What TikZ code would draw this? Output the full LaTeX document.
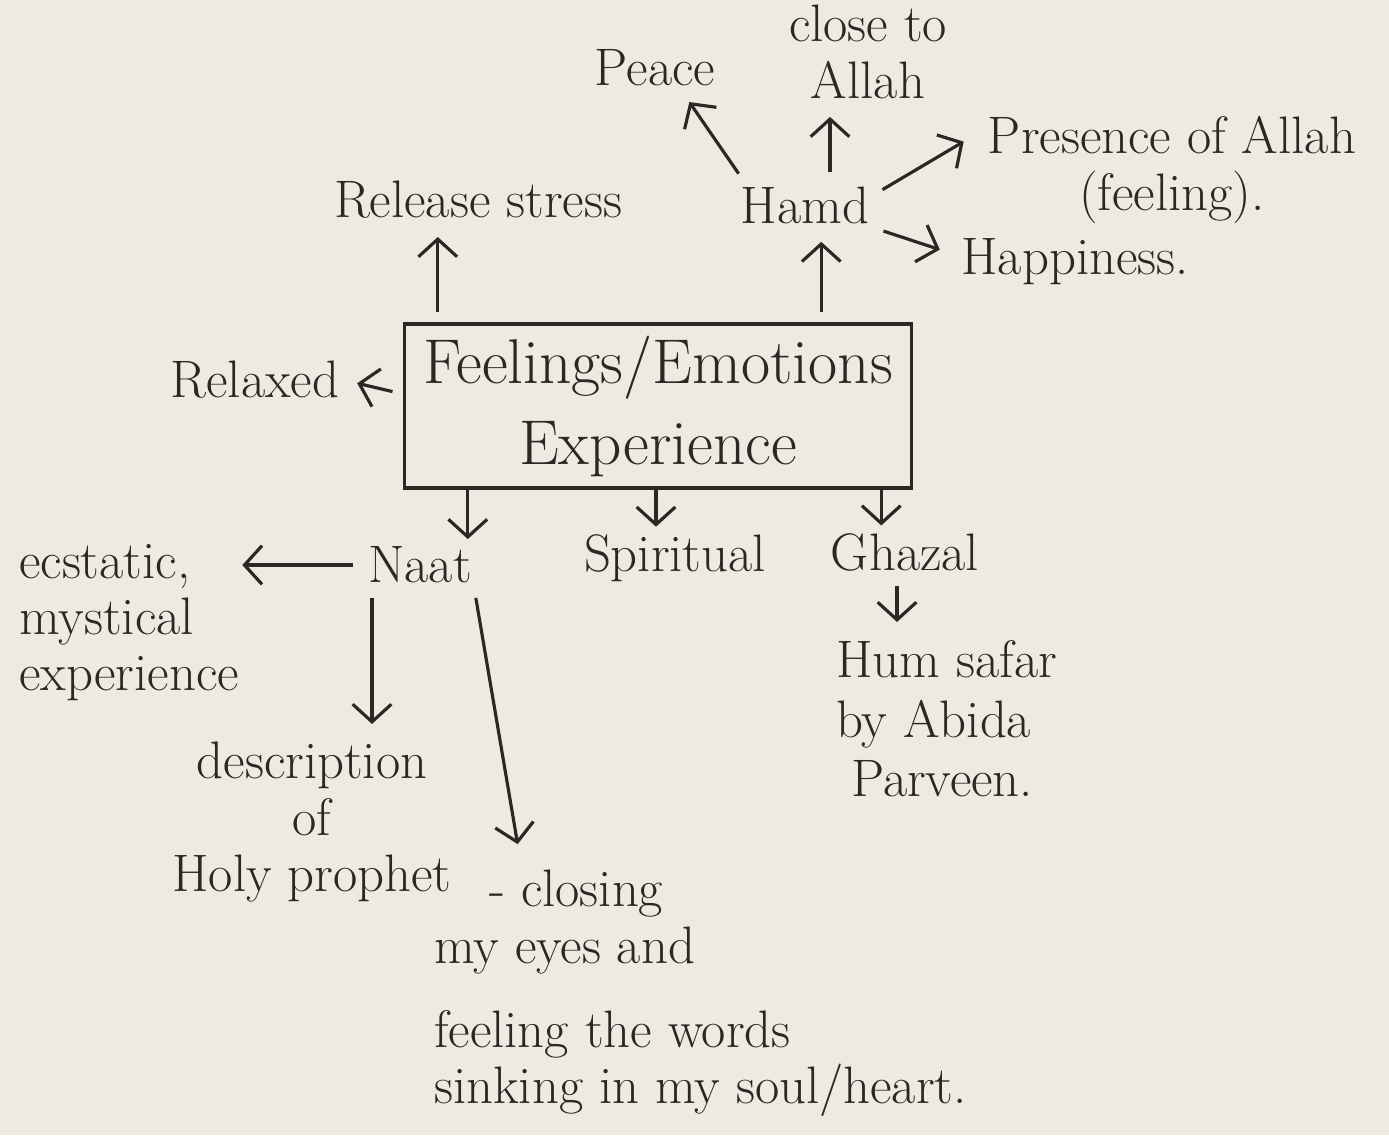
\documentclass[tikz,border=0pt]{standalone}
\usetikzlibrary{arrows.meta,calc}
\definecolor{paper}{HTML}{EEEAE2}
\definecolor{inkc}{HTML}{2A2724}
\tikzset{
  lbl/.style={font=\fontsize{15}{16}\selectfont, text=inkc, inner sep=1pt},
  arr/.style={draw=inkc, line width=0.9pt, -{Straight Barb[length=5pt,width=11pt]}, shorten <=3pt, shorten >=4pt},
  fbox/.style={draw=inkc, line width=0.9pt, minimum width=5.07cm, minimum height=1.62cm,
    font=\fontsize{18}{21}\selectfont, text=inkc, align=center},
}
\begin{document}
\begin{tikzpicture}[x=0.01cm,y=-0.01cm]
        \fill[paper] (0,0) rectangle (1389,1135);
        \useasboundingbox (0,0) rectangle (1389,1135);
        % central box
        \node[fbox] (fe) at (658,406) {Feelings/Emotions\\[2pt]Experience};
        % upper part
        \node[lbl] (release) at (478,200) {Release stress};
        \node[lbl] (hamd) at (805,205) {Hamd};
        \node[lbl] (peace) at (655,68) {Peace};
        \node[lbl,align=center] (close) at (868,52) {close to\\Allah};
        \node[lbl,align=center] (presence) at (1172,170) {Presence of Allah\\(feeling).};
        \node[lbl] (happy) at (1075,262) {Happiness.};
        \node[lbl] (relaxed) at (255,380) {Relaxed};
        % lower part
        \node[lbl] (naat) at (420,565) {Naat};
        \node[lbl] (spiritual) at (675,558) {Spiritual};
        \node[lbl] (ghazal) at (905,552) {Ghazal};
        \node[lbl,align=left,anchor=north west] (ecstatic) at (15,540) {ecstatic,\\mystical\\experience};
        \node[lbl,align=center,anchor=north] (desc) at (312,738) {description\\of\\Holy prophet};
        \node[lbl,align=left,anchor=north west] (closing) at (430,866)
          {\hspace*{5.5mm}- closing\\my eyes and\\[8pt]feeling the words\\sinking in my soul/heart.};
        \node[lbl,align=left,anchor=north west,font=\fontsize{15}{17}\selectfont] (humsafar) at (832,636)
          {Hum safar\\by Abida\\\hspace*{1.5mm}Parveen.};
        % arrows from the box
        \draw[arr] ($(fe.north west)+(35,0)$) coordinate (a) -- (a |- release.south);
        \draw[arr] ($(fe.north east)+(-92,0)$) coordinate (b) -- (b |- hamd.south);
        \draw[arr] ($(fe.west)+(0,-12)$) -- (relaxed.east);
        \draw[arr,shorten <=0pt,shorten >=1pt] ($(fe.south west)+(65,0)$) coordinate (c) -- (c |- naat.north);
        \draw[arr,shorten <=0pt,shorten >=1pt] ($(fe.south)+(-2,0)$) coordinate (d) -- (d |- spiritual.north);
        \draw[arr,shorten <=0pt,shorten >=1pt] ($(fe.south east)+(-32,0)$) coordinate (e) -- (e |- ghazal.north);
        % arrows from Hamd
        \draw[arr] ($(hamd.north west)+(8,0)$) -- ($(peace.south east)+(-38,0)$);
        \draw[arr] ($(hamd.north)+(25,0)$) coordinate (f) -- (f |- close.south);
        \draw[arr] ($(hamd.east)+(0,-10)$) -- ($(presence.north west)+(-8,22)$);
        \draw[arr] ($(hamd.south east)+(0,0)$) -- ($(happy.west)+(-4,-8)$);
        % arrows from Naat and Ghazal
        \draw[arr] (naat.west) -- ($(naat.west -| ecstatic.east)+(-15,0)$);
        \draw[arr] ($(naat.south)+(-48,0)$) coordinate (g) -- (g |- desc.north);
        \draw[arr] ($(naat.south east)+(-2,0)$) -- ($(closing.north west)+(90,-8)$);
        \draw[arr] ($(ghazal.south)+(-8,0)$) coordinate (h) -- (h |- humsafar.north);
\end{tikzpicture}
\end{document}
